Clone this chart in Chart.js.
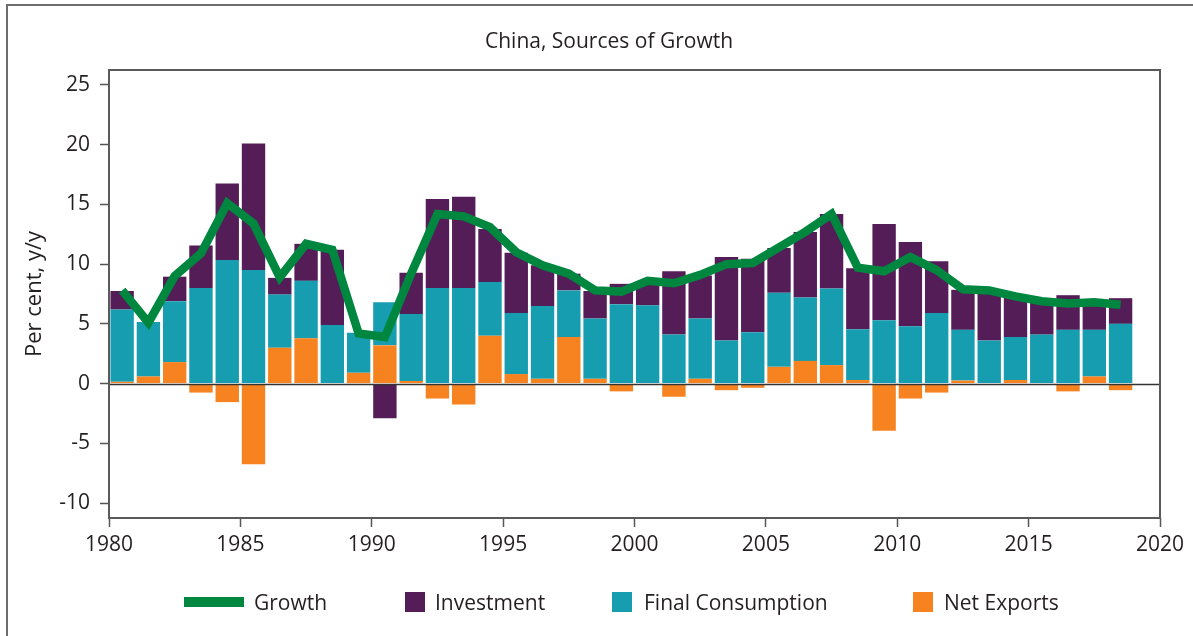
<!DOCTYPE html>
<html>
<head>
<meta charset="utf-8">
<title>China, Sources of Growth</title>
<script src="https://cdn.jsdelivr.net/npm/chart.js@4.4.1/dist/chart.umd.min.js"></script>
<style>
  html, body { margin: 0; padding: 0; background: #fff; overflow: hidden; width: 1193px; height: 636px; }
  #wrap { position: relative; width: 1193px; height: 636px; font-family: "Open Sans", sans-serif; color: #231f20; }
  #frame { position: absolute; left: 6px; top: 4px; width: 1220px; height: 700px; border: 2px solid #6d6d6d; box-sizing: border-box; }
  canvas { position: absolute; left: 0; top: 0; }
  .lg { position: absolute; top: 589px; height: 25px; display: flex; align-items: center; font-size: 21px; white-space: nowrap; }
  .sw { display: inline-block; }
</style>
</head>
<body>
<div id="wrap">
  <div id="frame"></div>
  <canvas id="chart" width="1193" height="636"></canvas>
  <div class="lg" style="left:184px"><span class="sw" style="width:60px;height:10px;background:#00873f;margin-right:10px"></span>Growth</div>
  <div class="lg" style="left:405px"><span class="sw" style="width:20px;height:20px;background:#541d58;margin-right:10px"></span>Investment</div>
  <div class="lg" style="left:612px"><span class="sw" style="width:20px;height:20px;background:#169db0;margin-right:12px"></span>Final Consumption</div>
  <div class="lg" style="left:913px"><span class="sw" style="width:20px;height:20px;background:#f68220;margin-right:11px"></span>Net Exports</div>
</div>
<script>
// Contributions to real GDP growth, percentage points (year-on-year)
const years = [1980, 1981, 1982, 1983, 1984, 1985, 1986, 1987, 1988, 1989,
               1990, 1991, 1992, 1993, 1994, 1995, 1996, 1997, 1998, 1999,
               2000, 2001, 2002, 2003, 2004, 2005, 2006, 2007, 2008, 2009,
               2010, 2011, 2012, 2013, 2014, 2015, 2016, 2017, 2018];

const growth = [7.8, 5.1, 9.0, 10.9, 15.1, 13.4, 8.9, 11.7, 11.2, 4.2,
                3.9, 9.2, 14.2, 14.0, 13.1, 11.0, 9.9, 9.2, 7.8, 7.7,
                8.6, 8.4, 9.1, 10.0, 10.1, 11.4, 12.7, 14.2, 9.7, 9.4,
                10.6, 9.5, 7.9, 7.8, 7.3, 6.9, 6.7, 6.8, 6.6];

const investment = [1.55, 0, 2.05, 3.55, 6.4, 10.6, 1.4, 3.1, 6.3, 0,
                    -2.9, 3.45, 7.45, 7.65, 4.45, 5.05, 3.4, 1.4, 2.3, 1.7,
                    1.8, 5.3, 3.6, 7.0, 6.15, 3.75, 5.5, 6.25, 5.1, 8.05,
                    7.05, 4.35, 3.35, 4.25, 3.4, 2.8, 2.9, 2.5, 2.15];

const consumption = [6.05, 4.55, 5.1, 8.0, 10.35, 9.5, 4.45, 4.8, 4.9, 3.35,
                     3.6, 5.6, 8.0, 8.0, 4.5, 5.1, 6.1, 3.9, 5.05, 6.65,
                     6.55, 4.1, 5.05, 3.6, 4.3, 6.2, 5.3, 6.4, 4.25, 5.3,
                     4.8, 5.9, 4.25, 3.6, 3.6, 4.1, 4.5, 3.9, 5.0];

const netExports = [0.15, 0.6, 1.8, -0.75, -1.55, -6.75, 3.0, 3.8, 0, 0.9,
                    3.2, 0.22, -1.25, -1.75, 4.0, 0.8, 0.4, 3.9, 0.4, -0.65,
                    0, -1.1, 0.4, -0.55, -0.35, 1.4, 1.9, 1.55, 0.3, -3.95,
                    -1.25, -0.75, 0.25, 0, 0.3, 0, -0.65, 0.6, -0.55];

const yTickValues = [-10, -5, 0, 5, 10, 15, 20, 25];
const xTickValues = [1980, 1985, 1990, 1995, 2000, 2005, 2010, 2015, 2020];

const FONT = '"Open Sans", sans-serif';
const TEXT = '#231f20';

// each annual value sits in the middle of its year
const series = vals => years.map((yr, i) => ({ x: yr + 0.5, y: vals[i] }));

const plotFrame = {
  id: 'plotFrame',
  afterDatasetsDraw(chart) {
    const { ctx, chartArea: a, scales: { y } } = chart;
    const y0 = Math.round(y.getPixelForValue(0)) + 0.5;
    ctx.save();
    ctx.strokeStyle = '#333';
    ctx.lineWidth = 1.5;
    ctx.beginPath();
    ctx.moveTo(a.left, y0);
    ctx.lineTo(a.right, y0);
    ctx.stroke();
    ctx.strokeStyle = '#5a5a5a';
    ctx.lineWidth = 2;
    ctx.strokeRect(a.left, a.top, a.right - a.left, a.bottom - a.top);
    ctx.restore();
  },
  afterDraw(chart) {
    const ctx = chart.ctx;
    ctx.save();
    ctx.font = '21px ' + FONT;
    ctx.fillStyle = TEXT;
    ctx.textAlign = 'center';
    ctx.textBaseline = 'middle';
    ctx.fillText('China, Sources of Growth', 609, 42);
    ctx.restore();
  }
};

new Chart(document.getElementById('chart'), {
  data: {
    datasets: [
      {
        type: 'line',
        label: 'Growth',
        data: series(growth),
        stack: 'growth',
        order: 0,
        borderColor: '#00873f',
        borderWidth: 8.5,
        borderJoinStyle: 'miter',
        borderCapStyle: 'butt',
        pointRadius: 0,
        tension: 0,
        fill: false
      },
      {
        type: 'bar',
        label: 'Investment',
        data: series(investment),
        stack: 'sources',
        order: 3,
        backgroundColor: '#541d58'
      },
      {
        type: 'bar',
        label: 'Final Consumption',
        data: series(consumption),
        stack: 'sources',
        order: 2,
        backgroundColor: '#169db0'
      },
      {
        type: 'bar',
        label: 'Net Exports',
        data: series(netExports),
        stack: 'sources',
        order: 1,
        backgroundColor: '#f68220'
      }
    ]
  },
  options: {
    responsive: false,
    animation: false,
    devicePixelRatio: 1,
    layout: { padding: { left: 8, right: 33, top: 70, bottom: 68 } },
    datasets: {
      bar: { barPercentage: 0.89, categoryPercentage: 1, borderWidth: 0 }
    },
    plugins: {
      legend: { display: false },
      title: { display: false },
      tooltip: { enabled: false }
    },
    scales: {
      x: {
        type: 'linear',
        stacked: true,
        min: 1980,
        max: 2020,
        offset: false,
        afterBuildTicks: s => { s.ticks = xTickValues.map(v => ({ value: v })); },
        afterFit: s => { s.height = 50; },
        border: { display: false },
        grid: { offset: false, drawOnChartArea: false, drawTicks: true, tickLength: 9, tickColor: '#555', tickWidth: 1.5 },
        ticks: {
          padding: 5,
          color: TEXT,
          font: { family: FONT, size: 21 },
          maxRotation: 0,
          callback: v => String(v)
        }
      },
      y: {
        type: 'linear',
        stacked: true,
        min: -11.25,
        max: 26.25,
        afterBuildTicks: s => { s.ticks = yTickValues.map(v => ({ value: v })); },
        afterFit: s => { s.width = 101; },
        border: { display: false },
        grid: { offset: false, drawOnChartArea: false, drawTicks: true, tickLength: 9, tickColor: '#555', tickWidth: 1.5 },
        ticks: {
          padding: 10,
          color: TEXT,
          font: { family: FONT, size: 21 },
          callback: v => String(v)
        },
        title: {
          display: true,
          text: 'Per cent, y/y',
          color: TEXT,
          font: { family: FONT, size: 22 },
          padding: { top: 14, bottom: 0 }
        }
      }
    }
  },
  plugins: [plotFrame]
});
</script>
</body>
</html>
